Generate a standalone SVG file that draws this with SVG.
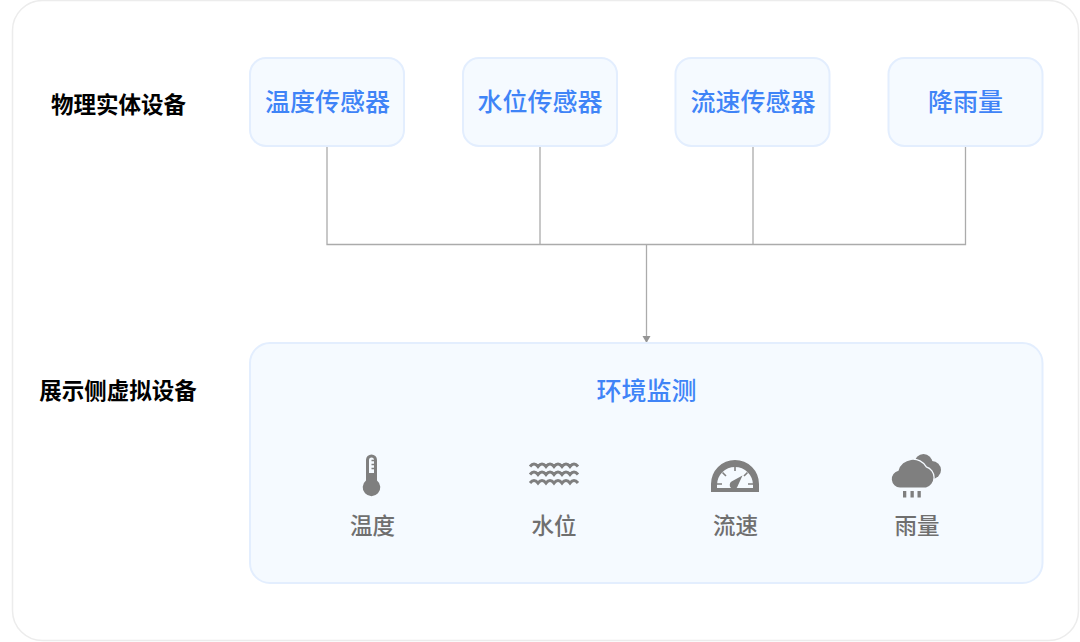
<svg xmlns="http://www.w3.org/2000/svg" width="1080" height="642" viewBox="0 0 1080 642">
<style>
text{font-family:"Noto Sans CJK SC","Noto Sans",sans-serif;text-anchor:middle}
.box{fill:#f5faff;stroke:#e3eefe;stroke-width:2}
.blue{fill:#3f84f7;font-size:25px;font-weight:500}
.head{fill:#000;font-size:22.500px;font-weight:700}
.cap{fill:#6f6f6f;font-size:22.500px;font-weight:500}
.wire{fill:none;stroke:#ababab;stroke-width:1.300}
.ic{fill:#7f7f7f}
.wave{fill:none;stroke:#7f7f7f;stroke-width:3}
</style>
<defs>
<marker id="arr" markerUnits="userSpaceOnUse" markerWidth="9" markerHeight="9" refX="7" refY="4" orient="auto"><path d="M0 0L7 4L0 8Z" fill="#959595"/></marker>
<path id="w" d="M530 0q4-5 8 0q4-5 8 0q4-5 8 0q4-5 8 0q4-5 8 0q4-5 8 0"/>
</defs>
<rect width="1080" height="642" fill="#fff"/>
<rect x="12.500" y="0.500" width="1066" height="640" rx="30" fill="#fff" stroke="#ececec" stroke-width="1.500"/>
<text class="head" x="118.500" y="113">物理实体设备</text>
<text class="head" x="118" y="399">展示侧虚拟设备</text>
<g id="connectors">
<path class="wire" d="M327 146V244.500H965.500V146M540 146V244.500M753 146V244.500"/>
<path class="wire" d="M646.500 244.500V343" marker-end="url(#arr)"/>
</g>
<g id="n1"><rect class="box" x="250" y="58" width="154" height="88" rx="16"/><text class="blue" x="327.500" y="111">温度传感器</text></g>
<g id="n2"><rect class="box" x="463" y="58" width="154" height="88" rx="16"/><text class="blue" x="540" y="111">水位传感器</text></g>
<g id="n3"><rect class="box" x="675.500" y="58" width="154" height="88" rx="16"/><text class="blue" x="753" y="111">流速传感器</text></g>
<g id="n4"><rect class="box" x="888.500" y="58" width="154" height="88" rx="16"/><text class="blue" x="965.500" y="111">降雨量</text></g>
<g id="panel">
<rect class="box" x="250" y="343" width="792.500" height="240" rx="20"/>
<text class="blue" x="646.500" y="399.500">环境监测</text>
<g id="temp">
<path class="ic" d="M366 460a5.500 5.500 0 0 1 11 0v20.500a8.800 8.800 0 1 1-11 0Z"/>
<path d="M369 460a2.500 2.500 0 0 1 5 0v13h-5Z" fill="#f5faff"/>
<path d="M371.500 460.500h3M371.500 464.500h3M371.500 468.500h3" stroke="#7f7f7f" stroke-width="1.300"/>
<text class="cap" x="372.500" y="534">温度</text>
</g>
<g id="water">
<use href="#w" class="wave" y="466.500"/><use href="#w" class="wave" y="474.500"/><use href="#w" class="wave" y="483"/>
<text class="cap" x="554" y="534">水位</text>
</g>
<g id="flow">
<path class="ic" fill-rule="evenodd" d="M711 492v-8a24 24 0 0 1 48 0v8ZM717 488h36v-3a18 18 0 0 0-36 0Z"/>
<path d="M731 488a4.200 4.200 0 0 1 .5-6.500l11-6-5.500 12a4 4 0 0 1-6 .5Z" class="ic"/>
<path d="M717 484h5M748 484h5M722.500 472.500l3.500 3.500M747.500 472.500l-3.500 3.500M735 466v5" stroke="#7f7f7f" stroke-width="1.600"/>
<text class="cap" x="735.500" y="534">流速</text>
</g>
<g id="rain">
<g class="ic"><circle cx="923.500" cy="463" r="9"/><circle cx="932" cy="470" r="9"/></g>
<path class="ic" stroke="#f5faff" stroke-width="2.500" paint-order="stroke" d="M900 487.500a8.500 8.500 0 0 1-1.500-16.800a15 15 0 0 1 27.500-3.300a10.500 10.500 0 0 1 0 20.100Z"/>
<path d="M903 491h3.300v6.500h-3.300ZM910.500 491h3.300v6.500h-3.300ZM917.500 491h3.300v6.500h-3.300Z" class="ic"/>
<text class="cap" x="917" y="534">雨量</text>
</g>
</g>
</svg>
